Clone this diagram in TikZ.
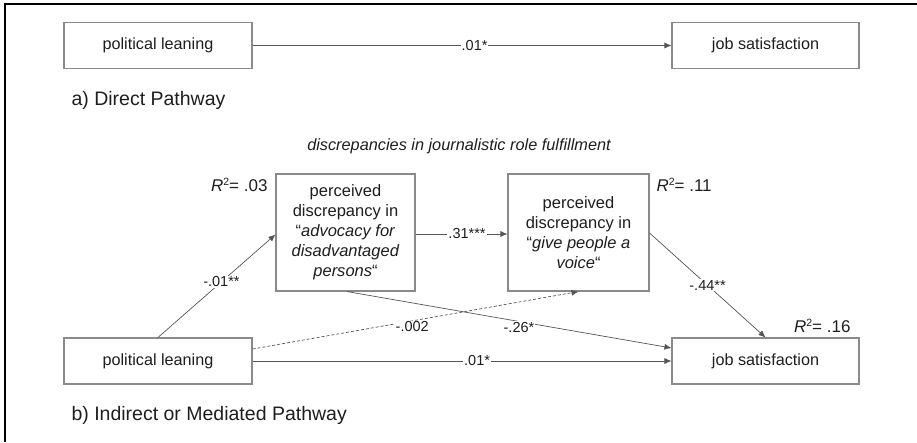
\documentclass[tikz,border=0pt]{standalone}
\usepackage{fontspec}
\setmainfont{Liberation Sans}
\usetikzlibrary{arrows.meta,calc}
\definecolor{txt}{HTML}{1E1E1E}
\definecolor{ln}{HTML}{555555}
\definecolor{bx}{HTML}{8A8A8A}
\newcommand{\rsqtext}[1]{\textit{R}\raisebox{6.5pt}{\fontsize{10.5}{12}\selectfont 2}= #1}
\begin{document}
\begin{tikzpicture}[x=1pt,y=-1pt,
  every node/.style={text=txt},
  box/.style={draw=bx,line width=1.1pt,fill=white,minimum width=188pt,minimum height=46pt,inner sep=0pt,font=\fontsize{16.2}{19}\selectfont},
  midbox/.style={draw=bx,line width=1.1pt,fill=white,minimum height=117pt,inner sep=0pt,align=center,font=\fontsize{16.5}{20}\selectfont},
  conn/.style={draw=ln,line width=0.7pt,-{Latex[length=7pt,width=6pt]}},
  lab/.style={fill=white,inner sep=1pt,font=\fontsize{14.5}{16}\selectfont},
  captext/.style={anchor=west,font=\fontsize{19.5}{22}\selectfont},
  rsq/.style={font=\fontsize{17}{19}\selectfont}
]
\useasboundingbox (0,0) rectangle (917,442);
% frame
\coordinate (ftl) at (5,4);
\coordinate (ftr) at (917,4);
\coordinate (fbl) at (5,442);
\draw[line width=1.4pt,black] (ftr) -- (ftl) -- (fbl);

% a) direct pathway
\node[box] (pla) at (158,45.5) {political leaning};
\node[box,minimum width=187pt] (jsa) at (765.5,45.5) {job satisfaction};
\draw[conn] (pla) -- node[lab,pos=0.53] {.01*} (jsa);
\node[captext] (capa) at (68,100) {a) Direct Pathway};

% b) mediated pathway
\node[font=\itshape\fontsize{16.3}{19}\selectfont] (title) at (459,146) {discrepancies in journalistic role fulfillment};
\node[box] (plb) at (158,361) {political leaning};
\node[box,minimum width=187pt] (jsb) at (765.5,361) {job satisfaction};
\node[midbox,minimum width=139pt] (m1) at (345.5,232.5) {perceived\\discrepancy in\\“\textit{advocacy for}\\\textit{disadvantaged}\\\textit{persons}“};
\node[midbox,minimum width=141pt] (m2) at (578.5,232.5) {perceived\\discrepancy in\\“\textit{give people a}\\\textit{voice}“};

\node[rsq,anchor=east] (r1) at (271,185) {\rsqtext{.03}};
\node[rsq,anchor=west] (r2) at (653,185) {\rsqtext{.11}};
\node[rsq,anchor=east] (r3) at (854,326) {\rsqtext{.16}};

\draw[conn] (plb.north) -- node[lab,pos=0.54] {-.01**} ([yshift=-2pt]m1.west);
\draw[conn] ([yshift=-1.5pt]m1.east) -- node[lab,pos=0.56] {.31***} ([yshift=-1.5pt]m2.west);
\draw[conn,dashed,dash pattern=on 3pt off 2pt] ([yshift=12pt]plb.east) -- node[lab,pos=0.49,yshift=-6pt] {-.002} (m2.south);
\draw[conn] ([xshift=1.5pt]m1.south) -- node[lab,pos=0.53,yshift=-6pt] {-.26*} ([yshift=13pt]jsb.west);
\draw[conn] (plb.east) -- node[lab,pos=0.536] {.01*} (jsb.west);
\draw[conn] ([yshift=-0.5pt]m2.east) -- node[lab,pos=0.5] {-.44**} (jsb.north);

\node[captext] (capb) at (68,415) {b) Indirect or Mediated Pathway};
\end{tikzpicture}
\end{document}
